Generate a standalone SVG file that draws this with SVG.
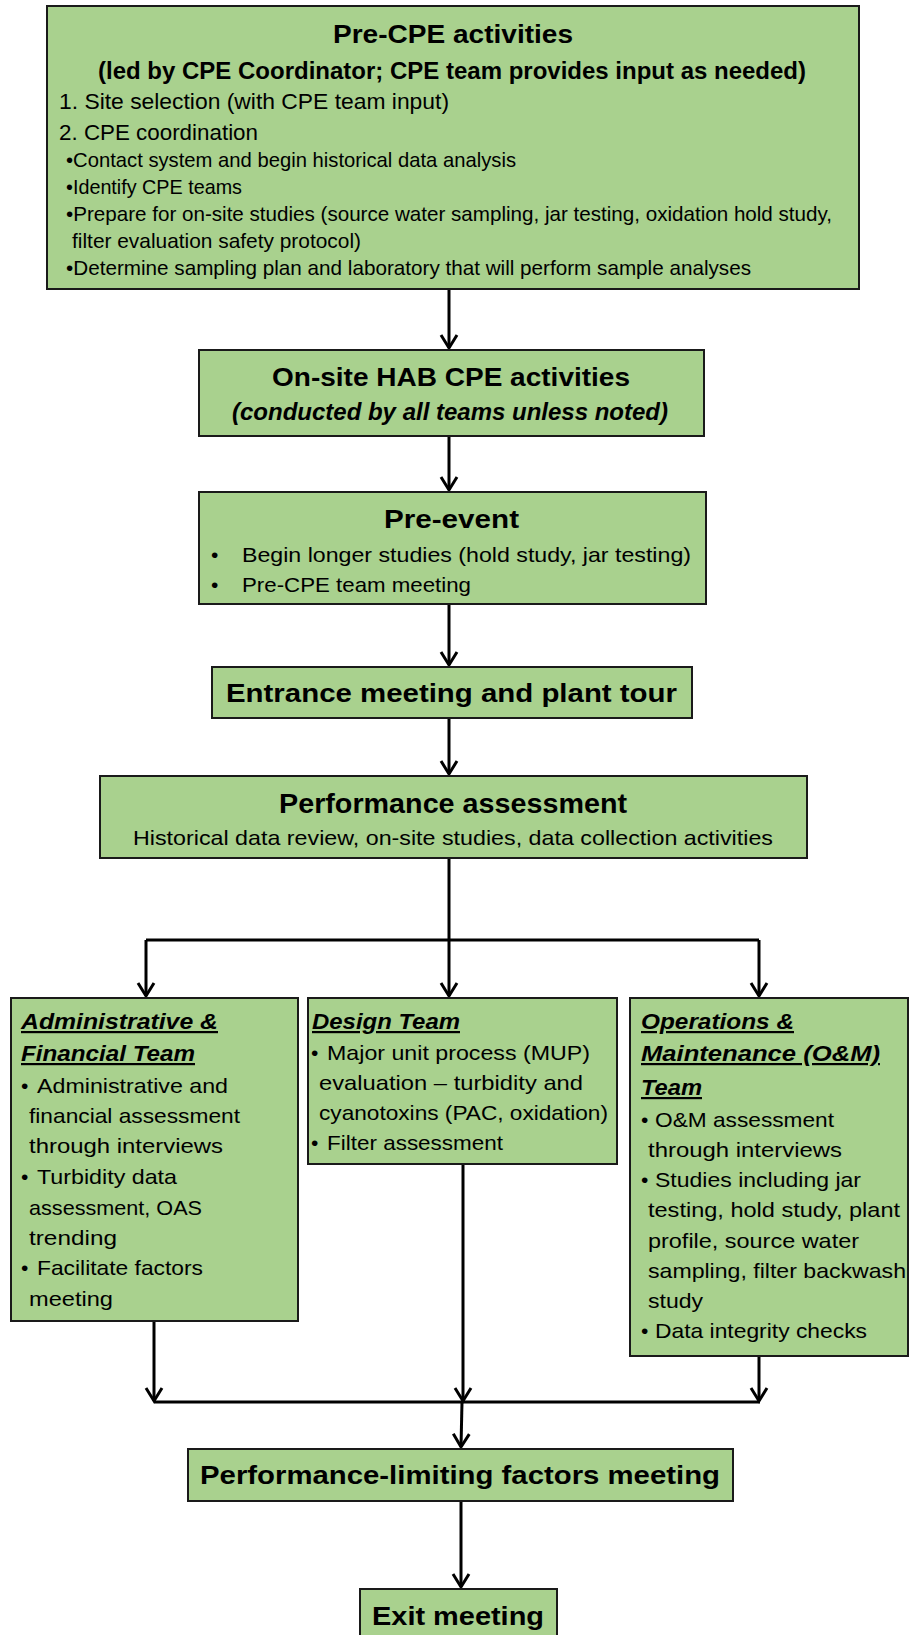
<svg xmlns="http://www.w3.org/2000/svg" width="909" height="1635" viewBox="0 0 909 1635">
<style>
.box{fill:#a9d18e;stroke:#1a1a1a;stroke-width:2}
text{font-family:"Liberation Sans",Arial,sans-serif;fill:#000}
.t{font-weight:bold}
.bi{font-weight:bold;font-style:italic}
.hd{font-weight:bold;font-style:italic;font-size:22px;text-decoration:underline}
.r22{font-size:22px}
.r21{font-size:21px}
.c{fill:none;stroke:#000;stroke-width:3}
</style>
<defs>
<marker id="ah" markerUnits="userSpaceOnUse" viewBox="-16 -11 18 22" refX="0" refY="0" markerWidth="18" markerHeight="22" orient="auto" overflow="visible">
<path d="M-13,-8 L0,0 L-13,8" fill="none" stroke="#000" stroke-width="3" stroke-linejoin="miter"/>
</marker>
</defs>

<g id="connectors">
<path class="c" d="M449,289 V348" marker-end="url(#ah)"/>
<path class="c" d="M449,436 V490" marker-end="url(#ah)"/>
<path class="c" d="M449,604 V665" marker-end="url(#ah)"/>
<path class="c" d="M449,718 V774" marker-end="url(#ah)"/>
<path class="c" d="M449,858 V996" marker-end="url(#ah)"/>
<path class="c" d="M146,940 H759"/>
<path class="c" d="M146,940 V996" marker-end="url(#ah)"/>
<path class="c" d="M759,940 V996" marker-end="url(#ah)"/>
<path class="c" d="M154,1321 V1401" marker-end="url(#ah)"/>
<path class="c" d="M463,1164 V1401" marker-end="url(#ah)"/>
<path class="c" d="M759,1356 V1401" marker-end="url(#ah)"/>
<path class="c" d="M154,1402 H760"/>
<path class="c" d="M462,1402 L461,1447" marker-end="url(#ah)"/>
<path class="c" d="M461,1501 V1587" marker-end="url(#ah)"/>
</g>

<g id="pre-cpe">
<rect class="box" x="47" y="6" width="812" height="283"/>
<text class="t" x="333" y="43" font-size="26" textLength="240" lengthAdjust="spacingAndGlyphs">Pre-CPE activities</text>
<text class="t" x="98" y="79" font-size="24" textLength="708" lengthAdjust="spacingAndGlyphs">(led by CPE Coordinator; CPE team provides input as needed)</text>
<text class="r22" x="59" y="109" textLength="390" lengthAdjust="spacingAndGlyphs">1. Site selection (with CPE team input)</text>
<text class="r22" x="59" y="140" textLength="199" lengthAdjust="spacingAndGlyphs">2. CPE coordination</text>
<text class="r21" x="66" y="167" textLength="450" lengthAdjust="spacingAndGlyphs">•Contact system and begin historical data analysis</text>
<text class="r21" x="66" y="194" textLength="176" lengthAdjust="spacingAndGlyphs">•Identify CPE teams</text>
<text class="r21" x="66" y="221" textLength="766" lengthAdjust="spacingAndGlyphs">•Prepare for on-site studies (source water sampling, jar testing, oxidation hold study,</text>
<text class="r21" x="72" y="248" textLength="289" lengthAdjust="spacingAndGlyphs">filter evaluation safety protocol)</text>
<text class="r21" x="66" y="275" textLength="685" lengthAdjust="spacingAndGlyphs">•Determine sampling plan and laboratory that will perform sample analyses</text>
</g>

<g id="onsite">
<rect class="box" x="199" y="350" width="505" height="86"/>
<text class="t" x="272" y="386" font-size="25" textLength="358" lengthAdjust="spacingAndGlyphs">On-site HAB CPE activities</text>
<text class="bi" x="232" y="420" font-size="23" textLength="436" lengthAdjust="spacingAndGlyphs">(conducted by all teams unless noted)</text>
</g>

<g id="pre-event">
<rect class="box" x="199" y="492" width="507" height="112"/>
<text class="t" x="384" y="528" font-size="26" textLength="135" lengthAdjust="spacingAndGlyphs">Pre-event</text>
<text class="r21" x="211" y="562">•</text>
<text class="r21" x="242" y="562" textLength="449" lengthAdjust="spacingAndGlyphs">Begin longer studies (hold study, jar testing)</text>
<text class="r21" x="211" y="592">•</text>
<text class="r21" x="242" y="592" textLength="229" lengthAdjust="spacingAndGlyphs">Pre-CPE team meeting</text>
</g>

<g id="entrance">
<rect class="box" x="212" y="667" width="480" height="51"/>
<text class="t" x="226" y="702" font-size="25" textLength="451" lengthAdjust="spacingAndGlyphs">Entrance meeting and plant tour</text>
</g>

<g id="performance">
<rect class="box" x="100" y="776" width="707" height="82"/>
<text class="t" x="279" y="813" font-size="27" textLength="348" lengthAdjust="spacingAndGlyphs">Performance assessment</text>
<text class="r21" x="133" y="845" textLength="640" lengthAdjust="spacingAndGlyphs">Historical data review, on-site studies, data collection activities</text>
</g>

<g id="admin">
<rect class="box" x="11" y="998" width="287" height="323"/>
<text class="hd" x="21" y="1029" textLength="197" lengthAdjust="spacingAndGlyphs">Administrative &amp;</text>
<text class="hd" x="21" y="1061" textLength="174" lengthAdjust="spacingAndGlyphs">Financial Team</text>
<text class="r21" x="21" y="1093">•</text>
<text class="r21" x="37" y="1093" textLength="191" lengthAdjust="spacingAndGlyphs">Administrative and</text>
<text class="r21" x="29" y="1123" textLength="211" lengthAdjust="spacingAndGlyphs">financial assessment</text>
<text class="r21" x="29" y="1153" textLength="194" lengthAdjust="spacingAndGlyphs">through interviews</text>
<text class="r21" x="21" y="1184">•</text>
<text class="r21" x="37" y="1184" textLength="140" lengthAdjust="spacingAndGlyphs">Turbidity data</text>
<text class="r21" x="29" y="1215" textLength="173" lengthAdjust="spacingAndGlyphs">assessment, OAS</text>
<text class="r21" x="29" y="1245" textLength="88" lengthAdjust="spacingAndGlyphs">trending</text>
<text class="r21" x="21" y="1275">•</text>
<text class="r21" x="37" y="1275" textLength="166" lengthAdjust="spacingAndGlyphs">Facilitate factors</text>
<text class="r21" x="29" y="1306" textLength="84" lengthAdjust="spacingAndGlyphs">meeting</text>
</g>

<g id="design">
<rect class="box" x="308" y="998" width="309" height="166"/>
<text class="hd" x="312" y="1029" textLength="148" lengthAdjust="spacingAndGlyphs">Design Team</text>
<text class="r21" x="311" y="1060">•</text>
<text class="r21" x="327" y="1060" textLength="263" lengthAdjust="spacingAndGlyphs">Major unit process (MUP)</text>
<text class="r21" x="319" y="1090" textLength="264" lengthAdjust="spacingAndGlyphs">evaluation – turbidity and</text>
<text class="r21" x="319" y="1120" textLength="289" lengthAdjust="spacingAndGlyphs">cyanotoxins (PAC, oxidation)</text>
<text class="r21" x="311" y="1150">•</text>
<text class="r21" x="327" y="1150" textLength="176" lengthAdjust="spacingAndGlyphs">Filter assessment</text>
</g>

<g id="om">
<rect class="box" x="630" y="998" width="278" height="358"/>
<text class="hd" x="641" y="1029" textLength="153" lengthAdjust="spacingAndGlyphs">Operations &amp;</text>
<text class="hd" x="641" y="1061" textLength="239" lengthAdjust="spacingAndGlyphs">Maintenance (O&amp;M)</text>
<text class="hd" x="641" y="1095" textLength="61" lengthAdjust="spacingAndGlyphs">Team</text>
<text class="r21" x="641" y="1127">•</text>
<text class="r21" x="655" y="1127" textLength="179" lengthAdjust="spacingAndGlyphs">O&amp;M assessment</text>
<text class="r21" x="648" y="1157" textLength="194" lengthAdjust="spacingAndGlyphs">through interviews</text>
<text class="r21" x="641" y="1187">•</text>
<text class="r21" x="655" y="1187" textLength="206" lengthAdjust="spacingAndGlyphs">Studies including jar</text>
<text class="r21" x="648" y="1217" textLength="252" lengthAdjust="spacingAndGlyphs">testing, hold study, plant</text>
<text class="r21" x="648" y="1248" textLength="211" lengthAdjust="spacingAndGlyphs">profile, source water</text>
<text class="r21" x="648" y="1278" textLength="258" lengthAdjust="spacingAndGlyphs">sampling, filter backwash</text>
<text class="r21" x="648" y="1308" textLength="55" lengthAdjust="spacingAndGlyphs">study</text>
<text class="r21" x="641" y="1338">•</text>
<text class="r21" x="655" y="1338" textLength="212" lengthAdjust="spacingAndGlyphs">Data integrity checks</text>
</g>

<g id="plf">
<rect class="box" x="188" y="1449" width="545" height="52"/>
<text class="t" x="200" y="1484" font-size="26" textLength="520" lengthAdjust="spacingAndGlyphs">Performance-limiting factors meeting</text>
</g>

<g id="exit">
<rect class="box" x="360" y="1589" width="197" height="60"/>
<text class="t" x="372" y="1625" font-size="26" textLength="172" lengthAdjust="spacingAndGlyphs">Exit meeting</text>
</g>
</svg>
